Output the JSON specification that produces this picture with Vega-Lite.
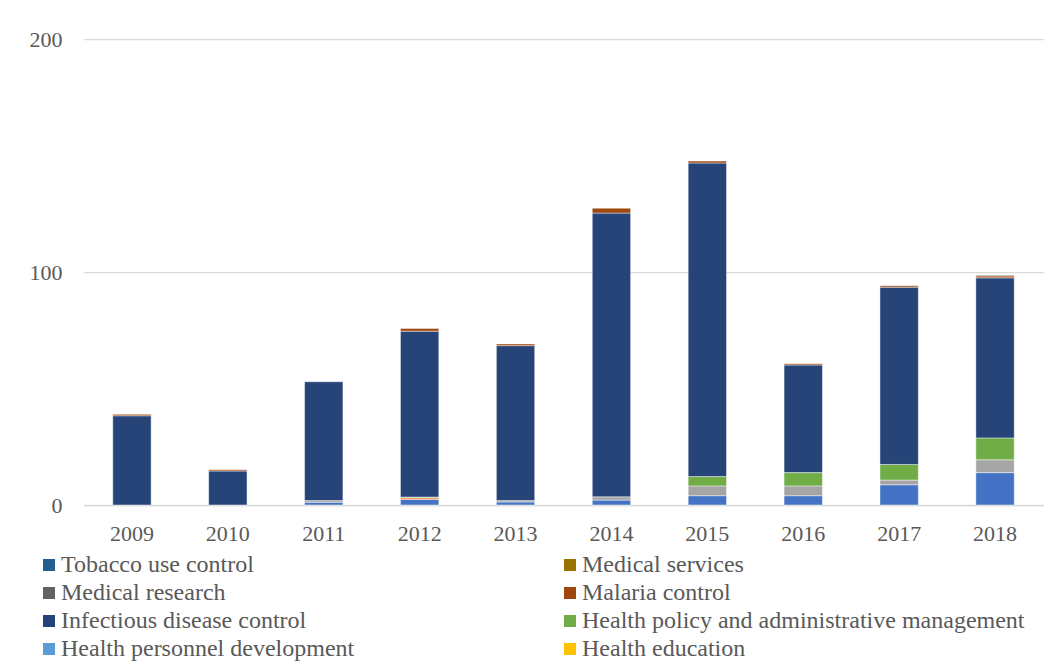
{
  "$schema": "https://vega.github.io/schema/vega-lite/v6.json",
  "width": 959,
  "height": 466,
  "autosize": {"type": "none"},
  "padding": {"left": 84, "top": 39, "right": 15, "bottom": 161},
  "background": "white",
  "config": {
    "view": {"stroke": null},
    "font": "Liberation Serif",
    "axis": {"labelFont": "Liberation Serif", "labelColor": "#595959", "labelFontSize": 22, "titleFont": "Liberation Serif"},
    "legend": {"labelFont": "Liberation Serif"}
  },
  "data": {
    "values": [
      {"year": "2009", "category": "Infectious disease control", "value": 38.3},
      {"year": "2009", "category": "Malaria control", "value": 0.6},
      {"year": "2010", "category": "Infectious disease control", "value": 14.6},
      {"year": "2010", "category": "Malaria control", "value": 0.5},
      {"year": "2011", "category": "Basic health care", "value": 1.2},
      {"year": "2011", "category": "Health infrastructure", "value": 0.7},
      {"year": "2011", "category": "Infectious disease control", "value": 51.0},
      {"year": "2012", "category": "Basic health care", "value": 2.4},
      {"year": "2012", "category": "Basic nutrition", "value": 0.7},
      {"year": "2012", "category": "Health policy and administrative management", "value": 0.3},
      {"year": "2012", "category": "Infectious disease control", "value": 71.2},
      {"year": "2012", "category": "Malaria control", "value": 1.2},
      {"year": "2013", "category": "Basic health care", "value": 1.3},
      {"year": "2013", "category": "Health infrastructure", "value": 0.6},
      {"year": "2013", "category": "Infectious disease control", "value": 66.5},
      {"year": "2013", "category": "Malaria control", "value": 0.7},
      {"year": "2014", "category": "Basic health care", "value": 2.1},
      {"year": "2014", "category": "Health infrastructure", "value": 1.4},
      {"year": "2014", "category": "Infectious disease control", "value": 121.8},
      {"year": "2014", "category": "Malaria control", "value": 2.1},
      {"year": "2015", "category": "Basic health care", "value": 4.0},
      {"year": "2015", "category": "Health infrastructure", "value": 4.2},
      {"year": "2015", "category": "Health policy and administrative management", "value": 4.0},
      {"year": "2015", "category": "Infectious disease control", "value": 134.6},
      {"year": "2015", "category": "Malaria control", "value": 0.8},
      {"year": "2016", "category": "Basic health care", "value": 4.0},
      {"year": "2016", "category": "Health infrastructure", "value": 4.2},
      {"year": "2016", "category": "Health policy and administrative management", "value": 5.7},
      {"year": "2016", "category": "Infectious disease control", "value": 46.2},
      {"year": "2016", "category": "Malaria control", "value": 0.5},
      {"year": "2017", "category": "Basic health care", "value": 8.7},
      {"year": "2017", "category": "Health infrastructure", "value": 2.0},
      {"year": "2017", "category": "Health policy and administrative management", "value": 6.7},
      {"year": "2017", "category": "Infectious disease control", "value": 76.1},
      {"year": "2017", "category": "Malaria control", "value": 0.6},
      {"year": "2018", "category": "Basic health care", "value": 13.9},
      {"year": "2018", "category": "Health infrastructure", "value": 5.5},
      {"year": "2018", "category": "Health policy and administrative management", "value": 9.4},
      {"year": "2018", "category": "Infectious disease control", "value": 68.7},
      {"year": "2018", "category": "Malaria control", "value": 0.8},
      {"year": "2018", "category": "Medical research", "value": 0.3}
    ]
  },
  "transform": [
    {"calculate": "indexof(['Basic health care', 'Basic nutrition', 'Health infrastructure', 'Health education', 'Health personnel development', 'Health policy and administrative management', 'Infectious disease control', 'Malaria control', 'Medical research', 'Medical services', 'Tobacco use control'], datum.category)", "as": "stackOrder"}
  ],
  "mark": {"type": "bar", "stroke": "white", "strokeWidth": 0.75, "strokeOpacity": 0.6},
  "encoding": {
    "x": {
      "field": "year", "type": "ordinal",
      "scale": {"paddingInner": 0.6, "paddingOuter": 0.3},
      "axis": {"title": null, "labelAngle": 0, "ticks": false, "domainColor": "#D9D9D9", "domainWidth": 1.5, "labelPadding": 18, "grid": false}
    },
    "y": {
      "field": "value", "type": "quantitative", "stack": "zero",
      "scale": {"domain": [0, 200], "nice": false},
      "axis": {"title": null, "values": [0, 100, 200], "ticks": false, "domain": false, "gridColor": "#D9D9D9", "gridWidth": 1.25, "labelPadding": 22}
    },
    "order": {"field": "stackOrder", "type": "quantitative", "sort": "ascending"},
    "color": {
      "field": "category", "type": "nominal",
      "scale": {
        "domain": ["Basic health care", "Basic nutrition", "Health infrastructure", "Health education", "Health personnel development", "Health policy and administrative management", "Infectious disease control", "Malaria control", "Medical research", "Medical services", "Tobacco use control"],
        "range": ["#4472C4", "#ED7D31", "#A5A5A5", "#FFC000", "#5B9BD5", "#70AD47", "#264478", "#9E480E", "#636363", "#997300", "#255E91"]
      },
      "legend": {
        "title": null,
        "orient": "none",
        "legendX": -47,
        "legendY": 514,
        "columns": 2,
        "columnPadding": 203,
        "rowPadding": 4,
        "symbolType": "square",
        "symbolSize": 144,
        "symbolStrokeWidth": 0,
        "labelOffset": 0,
        "labelFontSize": 24,
        "labelColor": "#595959",
        "labelLimit": 600,
        "values": ["Tobacco use control", "Medical research", "Infectious disease control", "Health personnel development", "Medical services", "Malaria control", "Health policy and administrative management", "Health education"]
      }
    }
  }
}
